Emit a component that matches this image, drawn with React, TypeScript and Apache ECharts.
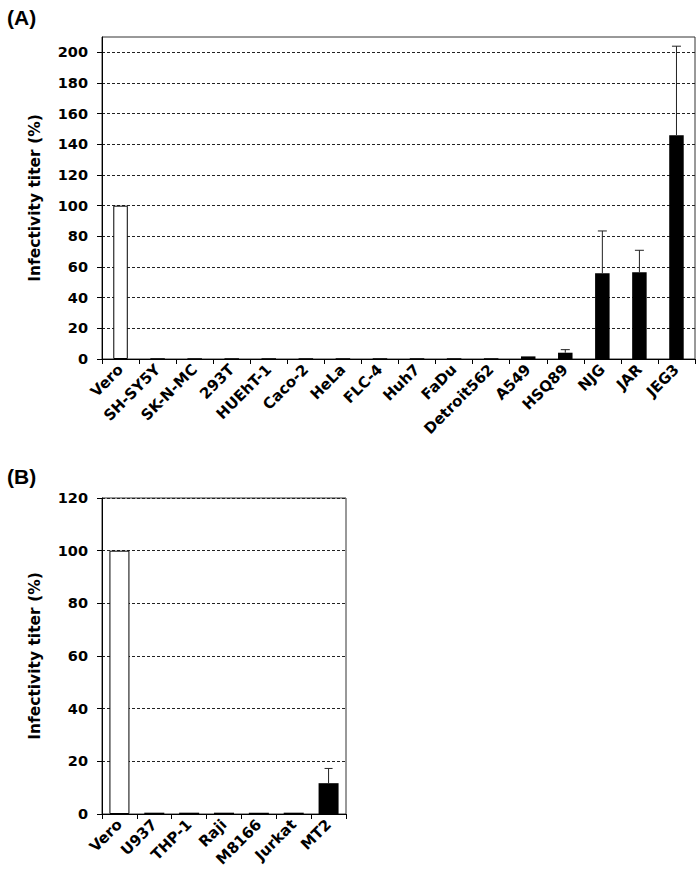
import React, { useEffect, useRef } from 'react';
import * as echarts from 'echarts';

const categoriesA = ['Vero', 'SH-SY5Y', 'SK-N-MC', '293T', 'HUEhT-1', 'Caco-2', 'HeLa', 'FLC-4', 'Huh7', 'FaDu', 'Detroit562', 'A549', 'HSQ89', 'NJG', 'JAR', 'JEG3'];
const valuesA = [100, 0.5, 0.5, 0.5, 0.5, 0.5, 0.5, 0.5, 0.5, 0.5, 0.5, 1.7, 4.1, 56, 56.5, 146];
const errorsA = [0, 0, 0, 0, 0, 0, 0, 0, 0, 0, 0, 0, 2, 27.5, 14.4, 58];
const ticksA = [0, 20, 40, 60, 80, 100, 120, 140, 160, 180, 200];

const categoriesB = ['Vero', 'U937', 'THP-1', 'Raji', 'M8166', 'Jurkat', 'MT2'];
const valuesB = [100, 0.5, 0.5, 0.5, 0.5, 0.5, 11.7];
const errorsB = [0, 0, 0, 0, 0, 0, 5.6];
const ticksB = [0, 20, 40, 60, 80, 100, 120];

const FONT = '"DejaVu Sans", Verdana, sans-serif';
const FONT_P = '"Liberation Sans", Arial, Helvetica, sans-serif';

function barData(cats: string[], vals: number[]) {
  return vals.map((v, i) => ({
    value: v,
    itemStyle: cats[i] === 'Vero'
      ? { color: '#ffffff', borderColor: '#000', borderWidth: 1 }
      : { color: '#000000' },
  }));
}

function errData(vals: number[], errs: number[]) {
  return vals.map((v, i) => [i, v, errs[i]]);
}

function errRender(cap: number) {
  return (params: any, api: any) => {
    const e = api.value(2);
    if (!e) return null;
    const i = api.value(0);
    const v = api.value(1);
    const base = api.coord([i, v]);
    const top = api.coord([i, v + e]);
    return {
      type: 'group',
      children: [
        { type: 'line', shape: { x1: base[0], y1: base[1], x2: top[0], y2: top[1] }, style: { stroke: '#222', lineWidth: 1 } },
        { type: 'line', shape: { x1: top[0] - cap / 2, y1: top[1], x2: top[0] + cap / 2, y2: top[1] }, style: { stroke: '#222', lineWidth: 1 } },
      ],
    };
  };
}

function yAxis(gridIndex: number, max: number, ticks: number[]) {
  return {
    type: 'value',
    gridIndex,
    min: 0,
    max,
    interval: 20,
    name: 'Infectivity titer (%)',
    nameLocation: 'middle',
    nameGap: 59,
    nameRotate: 90,
    nameTextStyle: { fontFamily: FONT, fontWeight: 'bold', fontSize: 15.5, color: '#000' },
    axisLine: { show: true, lineStyle: { color: '#000', width: 1 } },
    axisTick: { show: true, length: 5, customValues: ticks, lineStyle: { color: '#000' } },
    axisLabel: { customValues: ticks, margin: 14, fontFamily: FONT, fontWeight: 'bold', fontSize: 14.5, color: '#000' },
    splitLine: { show: true, lineStyle: { color: '#222', type: [3, 2], width: 1 } },
  };
}

function xAxis(gridIndex: number, cats: string[]) {
  return {
    type: 'category',
    gridIndex,
    data: cats,
    axisLine: { show: true, lineStyle: { color: '#000', width: 1 } },
    axisTick: { show: true, length: 5, lineStyle: { color: '#000' } },
    axisLabel: { interval: 0, rotate: 45, margin: 8, fontFamily: FONT, fontWeight: 'bold', fontSize: 15, color: '#000' },
  };
}

export default function App() {
  const ref = useRef<HTMLDivElement>(null);
  useEffect(() => {
    if (!ref.current) return;
    const chart = echarts.init(ref.current, undefined, { renderer: 'svg' });
    chart.setOption({
      animation: false,
      backgroundColor: '#ffffff',
      grid: [
        { left: 102, top: 37, width: 593, height: 322, show: true, borderColor: '#333', borderWidth: 1, backgroundColor: 'transparent' },
        { left: 102, top: 498, width: 244, height: 316, show: true, borderColor: '#333', borderWidth: 1, backgroundColor: 'transparent' },
      ],
      title: [
        { text: '(A)', left: 2, top: 2, textStyle: { fontFamily: FONT_P, fontWeight: 'bold', fontSize: 21, color: '#000' } },
        { text: '(B)', left: 2, top: 461, textStyle: { fontFamily: FONT_P, fontWeight: 'bold', fontSize: 21, color: '#000' } },
      ],
      xAxis: [xAxis(0, categoriesA), xAxis(1, categoriesB)],
      yAxis: [yAxis(0, 210, ticksA), yAxis(1, 120, ticksB)],
      series: [
        { type: 'bar', xAxisIndex: 0, yAxisIndex: 0, barWidth: 14.5, data: barData(categoriesA, valuesA) },
        { type: 'custom', xAxisIndex: 0, yAxisIndex: 0, renderItem: errRender(9), data: errData(valuesA, errorsA), z: 3 },
        { type: 'bar', xAxisIndex: 1, yAxisIndex: 1, barWidth: 20, data: barData(categoriesB, valuesB) },
        { type: 'custom', xAxisIndex: 1, yAxisIndex: 1, renderItem: errRender(8), data: errData(valuesB, errorsB), z: 3 },
      ],
    });
    return () => chart.dispose();
  }, []);
  return <div ref={ref} style={{ position: 'absolute', left: 0, top: 0, width: 700, height: 872 }} />;
}
